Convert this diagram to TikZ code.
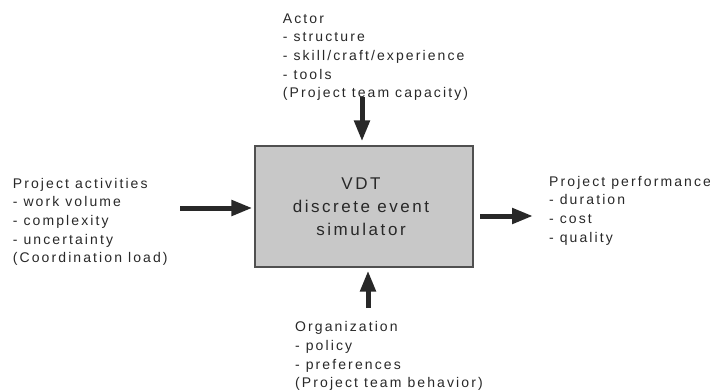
\documentclass[tikz,border=0pt]{standalone}
\usepackage{fontspec}
\setmainfont[LetterSpace=15]{Liberation Sans}
\usetikzlibrary{arrows.meta}
\definecolor{inkgray}{RGB}{40,40,40}
\definecolor{boxfill}{RGB}{200,200,200}
\definecolor{boxline}{RGB}{80,80,80}
\tikzset{
  lbl/.style={align=left, anchor=base west, inner sep=0pt, text=inkgray,
    font=\fontsize{14}{18.6}\selectfont},
  simbox/.style={draw=boxline, line width=1.2pt, fill=boxfill,
    minimum width=218pt, minimum height=121pt, inner sep=0pt},
  simtext/.style={align=center, inner sep=0pt, text=inkgray,
    font=\fontsize{17}{23.2}\selectfont},
  flow/.style={draw=inkgray, line width=5pt,
    -{Triangle[length=21pt,width=15pt]}}
}
\begin{document}
\begin{tikzpicture}[x=1pt, y=-1pt]
  \useasboundingbox (0,0) rectangle (710,391);

  % central simulator block
  \node[simbox] (sim) at (364,206.5) {};
  \node[simtext, anchor=base] (simlabel) at (361,235.7)
    {VDT\\discrete event\\simulator};

  % inputs, controls and outputs (anchored at the last line's baseline)
  \node[lbl] (actor) at (282.7,97.7)
    {Actor\\- structure\\- skill/craft/experience\\- tools\\(Project team capacity)};
  \node[lbl] (activities) at (12.7,262.7)
    {Project activities\\- work volume\\- complexity\\- uncertainty\\(Coordination load)};
  \node[lbl] (performance) at (549,242)
    {Project performance\\- duration\\- cost\\- quality};
  \node[lbl] (organization) at (295,387.7)
    {Organization\\- policy\\- preferences\\(Project team behavior)};

  % arrow tails
  \coordinate (actorTail) at (362,97);
  \coordinate (orgTail) at (368,308);
  \coordinate (actTail) at (180,208);
  \coordinate (perfTail) at (480,216);
  \coordinate (perfHead) at (533,216);

  \draw[flow, shorten >=4pt] (actorTail) -- (actorTail |- sim.north);
  \draw[flow, shorten >=3pt] (orgTail) -- (orgTail |- sim.south);
  \draw[flow, shorten >=2pt] (actTail) -- (actTail -| sim.west);
  \draw[flow] (perfTail) -- (perfHead);
\end{tikzpicture}
\end{document}
